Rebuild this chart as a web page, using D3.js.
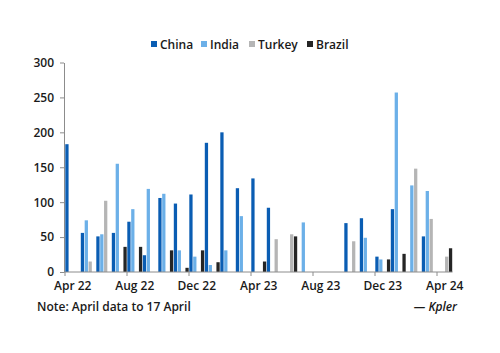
<!DOCTYPE html>
<html>
<head>
<meta charset="utf-8">
<script src="https://cdn.jsdelivr.net/npm/d3@7"></script>
<style>
  body { margin: 0; background: #fff; }
  svg text { font-family: "Open Sans", "Liberation Sans", Arial, sans-serif; }
</style>
</head>
<body>
<svg id="chart" width="500" height="353"></svg>
<script>
const months = ['Apr 22', 'May 22', 'Jun 22', 'Jul 22', 'Aug 22', 'Sep 22', 'Oct 22', 'Nov 22', 'Dec 22',
    'Jan 23', 'Feb 23', 'Mar 23', 'Apr 23', 'May 23', 'Jun 23', 'Jul 23', 'Aug 23', 'Sep 23', 'Oct 23',
    'Nov 23', 'Dec 23', 'Jan 24', 'Feb 24', 'Mar 24', 'Apr 24'];
const tickLabels = ['Apr 22', 'Aug 22', 'Dec 22', 'Apr 23', 'Aug 23', 'Dec 23', 'Apr 24'];
const seriesNames = ['China', 'India', 'Turkey', 'Brazil'];
const china  = [183, 56, 51, 56, 72, 24, 106, 98, 111, 185, 200, 120, 134, 92, 0, 0, 0, 0, 70, 77, 22, 90, 0, 51, 0];
const india  = [0, 74, 54, 155, 90, 119, 112, 31, 22, 10, 31, 80, 0, 0, 0, 71, 0, 0, 0, 49, 18, 257, 124, 116, 0];
const turkey = [0, 15, 102, 0, 0, 0, 0, 0, 0, 0, 0, 0, 0, 47, 54, 0, 0, 0, 44, 0, 0, 0, 148, 76, 22];
const brazil = [0, 0, 0, 36, 36, 0, 31, 6, 31, 14, 0, 0, 15, 0, 51, 0, 0, 0, 0, 0, 18, 26, 0, 0, 34];
const yTicks = [0, 50, 100, 150, 200, 250, 300];

const colors = {China: '#0a5db3', India: '#6cb0e8', Turkey: '#b5b5b5', Brazil: '#252525'};
const seriesValues = {China: china, India: india, Turkey: turkey, Brazil: brazil};

const svg = d3.select('#chart');

const x = d3.scaleBand().domain(months).range([65, 452.5]).padding(0);
const xi = d3.scaleBand().domain(seriesNames).range([0, x.bandwidth()]).padding(0);
const y = d3.scaleLinear().domain([0, 300]).range([272, 62.5]);

const rows = [];
months.forEach((m, i) => {
    seriesNames.forEach(s => {
        const v = seriesValues[s][i];
        if (v > 0) rows.push({month: m, series: s, value: v});
    });
});

svg.append('g')
    .selectAll('rect')
    .data(rows)
    .enter().append('rect')
    .attr('x', d => x(d.month) + xi(d.series) + 0.3)
    .attr('y', d => y(d.value))
    .attr('width', xi.bandwidth() - 0.6)
    .attr('height', d => y(0) - y(d.value))
    .attr('fill', d => colors[d.series]);

// y axis
const yAxis = svg.append('g')
    .attr('transform', 'translate(64,0)')
    .call(d3.axisLeft(y).tickValues(yTicks).tickSize(4).tickSizeOuter(0).tickPadding(6));
yAxis.select('.domain').attr('stroke', '#8c8c8c');
yAxis.selectAll('.tick line').attr('stroke', '#8c8c8c');
yAxis.selectAll('text')
    .style('font-size', '12px')
    .style('font-weight', '600')
    .attr('fill', '#1a1a1a');

// x axis: labels centred on months, ticks at month starts
const xAxis = svg.append('g')
    .attr('transform', `translate(0,${y(0)})`)
    .call(d3.axisBottom(x).tickValues(tickLabels).tickSize(0).tickSizeOuter(0).tickPadding(9));
xAxis.select('.domain').attr('stroke', '#8c8c8c').attr('d', `M64,0H452.5`);
xAxis.selectAll('text')
    .style('font-size', '12px')
    .style('font-weight', '600')
    .attr('fill', '#1a1a1a');
xAxis.selectAll('.tickmark')
    .data(tickLabels)
    .enter().append('line')
    .attr('x1', d => x(d))
    .attr('x2', d => x(d))
    .attr('y1', 0)
    .attr('y2', 4)
    .attr('stroke', '#8c8c8c');

// legend
const legendX = [151, 201, 249, 307];
const legend = svg.append('g');
seriesNames.forEach((s, i) => {
    legend.append('rect')
        .attr('x', legendX[i])
        .attr('y', 41)
        .attr('width', 6)
        .attr('height', 6)
        .attr('fill', colors[s]);
    legend.append('text')
        .attr('x', legendX[i] + 9)
        .attr('y', 48.5)
        .style('font-size', '12px')
        .style('font-weight', '600')
        .attr('fill', '#1a1a1a')
        .text(s);
});

svg.append('text')
    .attr('x', 37)
    .attr('y', 311)
    .style('font-size', '12px')
    .style('font-weight', '600')
    .attr('fill', '#1a1a1a')
    .text('Note: April data to 17 April');

svg.append('text')
    .attr('x', 457)
    .attr('y', 311)
    .attr('text-anchor', 'end')
    .style('font-size', '12px')
    .style('font-weight', '600')
    .style('font-style', 'italic')
    .attr('fill', '#1a1a1a')
    .text('— Kpler');
</script>
</body>
</html>
